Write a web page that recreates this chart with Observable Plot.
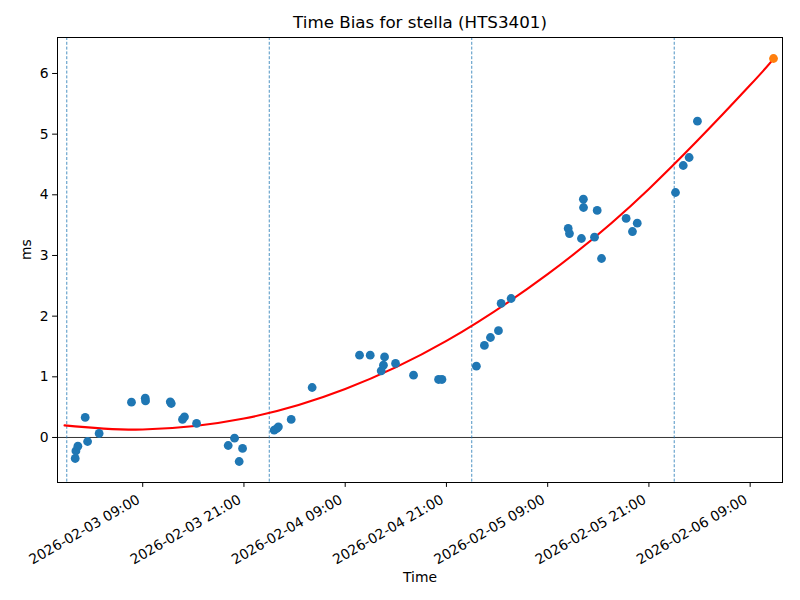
<!DOCTYPE html>
<html>
<head>
<meta charset="utf-8">
<script src="https://cdn.jsdelivr.net/npm/d3@7"></script>
<script src="https://cdn.jsdelivr.net/npm/@observablehq/plot@0.6"></script>
<style>
  html, body { margin: 0; padding: 0; background: #fff; }
  svg { font-family: "DejaVu Sans", sans-serif; }
</style>
</head>
<body>
<div id="chart"></div>
<script>
// Observed time-bias samples (UTC), ms
const sampleTimes = [
  "2026-02-03T01:00Z","2026-02-03T01:05Z","2026-02-03T01:19Z","2026-02-03T02:11Z","2026-02-03T02:28Z",
  "2026-02-03T03:50Z","2026-02-03T07:40Z","2026-02-03T09:18Z","2026-02-03T09:20Z","2026-02-03T12:16Z",
  "2026-02-03T12:23Z","2026-02-03T13:43Z","2026-02-03T13:57Z","2026-02-03T15:23Z","2026-02-03T19:08Z",
  "2026-02-03T19:53Z","2026-02-03T20:50Z","2026-02-03T20:26Z","2026-02-04T00:35Z","2026-02-04T00:54Z",
  "2026-02-04T01:05Z","2026-02-04T02:36Z","2026-02-04T05:05Z","2026-02-04T10:42Z","2026-02-04T11:58Z",
  "2026-02-04T13:40Z","2026-02-04T13:32Z","2026-02-04T13:16Z","2026-02-04T14:58Z","2026-02-04T17:06Z",
  "2026-02-04T20:04Z","2026-02-04T20:28Z","2026-02-05T00:33Z","2026-02-05T01:30Z","2026-02-05T02:13Z",
  "2026-02-05T03:10Z","2026-02-05T03:29Z","2026-02-05T04:40Z","2026-02-05T11:26Z","2026-02-05T11:35Z",
  "2026-02-05T13:14Z","2026-02-05T13:15Z","2026-02-05T13:00Z","2026-02-05T14:52Z","2026-02-05T14:33Z",
  "2026-02-05T15:23Z","2026-02-05T18:18Z","2026-02-05T19:37Z","2026-02-05T19:03Z","2026-02-06T00:09Z",
  "2026-02-06T01:04Z","2026-02-06T01:46Z","2026-02-06T02:45Z"
];
const sampleValues = [
  -0.346,-0.221,-0.143,0.330,-0.066,
  0.066,0.582,0.648,0.603,0.587,
  0.560,0.297,0.340,0.231,-0.132,
  -0.012,-0.181,-0.396,0.120,0.148,
  0.175,0.297,0.824,1.357,1.357,
  1.328,1.192,1.098,1.220,1.027,
  0.956,0.956,1.175,1.518,1.648,
  1.760,2.209,2.291,3.445,3.362,
  3.928,3.791,3.280,3.742,3.302,
  2.950,3.610,3.532,3.395,4.038,
  4.483,4.615,5.213
];
// Latest point (highlighted)
const latestTime = ["2026-02-06T11:46Z"];
const latestValue = [6.247];

// Fitted trend curve
const fitTimes = [
  "2026-02-02T23:44Z","2026-02-03T09:00Z","2026-02-03T21:00Z","2026-02-04T09:00Z","2026-02-04T21:00Z",
  "2026-02-05T09:00Z","2026-02-05T21:00Z","2026-02-06T09:00Z","2026-02-06T11:46Z"
];
const fitValues = [0.200,0.131,0.312,0.799,1.592,2.692,4.097,5.809,6.247];

// Day boundaries (vertical dashed lines)
const dayLines = ["2026-02-03T00:00Z","2026-02-04T00:00Z","2026-02-05T00:00Z","2026-02-06T00:00Z"];

// Axis ticks
const xTicks = [
  "2026-02-03T09:00Z","2026-02-03T21:00Z","2026-02-04T09:00Z","2026-02-04T21:00Z",
  "2026-02-05T09:00Z","2026-02-05T21:00Z","2026-02-06T09:00Z"
];
const yTicks = [0,1,2,3,4,5,6];

const title = "Time Bias for stella (HTS3401)";
const xLabel = "Time";
const yLabel = "ms";

const P = s => new Date(s);
const samples = sampleTimes.map((t, i) => ({t: P(t), v: sampleValues[i]}));
const latest = latestTime.map((t, i) => ({t: P(t), v: latestValue[i]}));
const fit = fitTimes.map((t, i) => ({t: P(t), v: fitValues[i]}));
const fmt = d3.utcFormat("%Y-%m-%d %H:%M");

const chart = Plot.plot({
  width: 800,
  height: 600,
  marginLeft: 57,
  marginRight: 18,
  marginTop: 37,
  marginBottom: 118,
  style: {fontFamily: "DejaVu Sans, sans-serif", fontSize: "13.9px", background: "#fff", color: "#000"},
  x: {type: "utc", domain: [P("2026-02-02T22:54Z"), P("2026-02-06T12:50Z")]},
  y: {domain: [-0.742, 6.593]},
  marks: [
    Plot.ruleY([0], {stroke: "black", strokeWidth: 0.8}),
    Plot.ruleX(dayLines.map(P), {stroke: "#1f77b4", strokeWidth: 0.8, strokeDasharray: "3,1.8"}),
    Plot.line(fit, {x: "t", y: "v", stroke: "red", strokeWidth: 2.08, curve: "natural"}),
    Plot.dot(samples, {x: "t", y: "v", fill: "#1f77b4", r: 4.4}),
    Plot.dot(latest, {x: "t", y: "v", fill: "#ff7f0e", r: 4.4}),
    Plot.frame({stroke: "black", strokeWidth: 1}),
    // tick marks only
    Plot.axisX({ticks: xTicks.map(P), tickSize: 4.9, tickFormat: () => "", label: null}),
    // rotated tick labels only
    Plot.axisX({ticks: xTicks.map(P), tickSize: 0, tickPadding: 7.9, tickFormat: fmt, tickRotate: -30, label: null, fontSize: 13.9, dx: -4, dy: 8}),
    Plot.axisY({ticks: yTicks, tickSize: 4.9, tickPadding: 4, label: null, fontSize: 13.9}),
    Plot.text([title], {frameAnchor: "top", lineAnchor: "middle", dy: -15, fontSize: 16.7, fill: "black"}),
    Plot.text([xLabel], {frameAnchor: "bottom", lineAnchor: "middle", dy: 95, fontSize: 13.9, fill: "black"}),
    Plot.text([yLabel], {frameAnchor: "left", lineAnchor: "middle", dx: -31, rotate: -90, fontSize: 13.9, fill: "black"})
  ]
});
document.getElementById("chart").appendChild(chart);
</script>
</body>
</html>
